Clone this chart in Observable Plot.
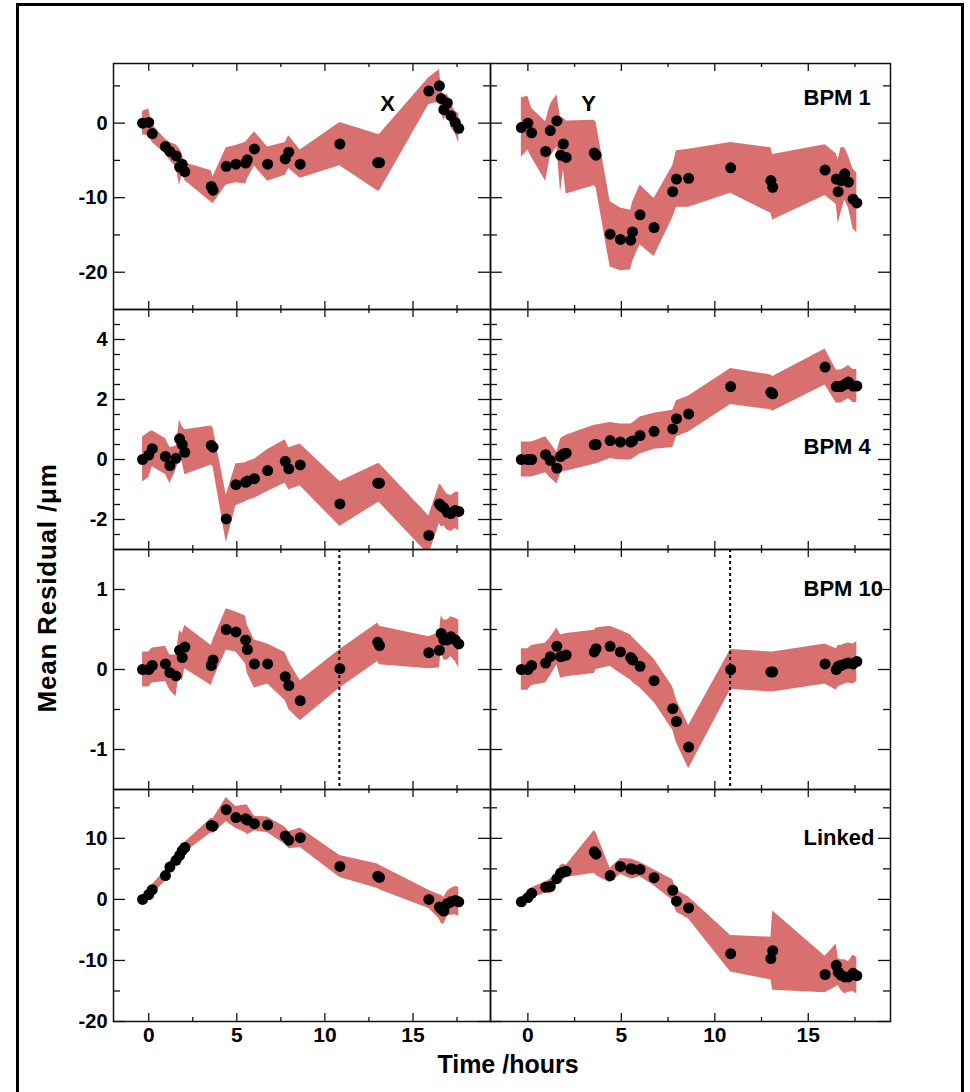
<!DOCTYPE html>
<html><head><meta charset="utf-8">
<script src="https://cdn.jsdelivr.net/npm/d3@7"></script>
<script src="https://cdn.jsdelivr.net/npm/@observablehq/plot@0.6"></script>
<style>
html,body{margin:0;padding:0;background:#fff;overflow:hidden;}
#page{position:relative;width:970px;height:1092px;overflow:hidden;font-family:"Liberation Sans",Arial,sans-serif;}
#border{position:absolute;left:16px;top:3px;width:942px;height:1110px;border:3px solid #000;}
.panel{position:absolute;}
.title{position:absolute;font-weight:bold;color:#000;white-space:nowrap;}
</style></head><body>
<div id="page"><div id="border"></div></div>
<script>
// Measurement times (hours), shared by all panels
const times = [-0.35, 0.0, 0.2, 0.95, 1.2, 1.55, 1.75, 1.9, 2.05, 3.55, 3.65, 4.4, 4.95, 5.5, 5.6, 6.0, 6.75, 7.75, 7.95, 8.6, 10.85, 13.0, 13.1, 15.9, 16.5, 16.6, 16.75, 16.95, 17.15, 17.4, 17.6];

// BPM 1
const bpm1X = [0.0, 0.1, -1.4, -3.15, -3.8, -4.4, -5.9, -5.5, -6.5, -8.5, -9.0, -5.8, -5.5, -5.35, -4.9, -3.46, -5.5, -4.8, -3.9, -5.5, -2.8, -5.3, -5.3, 4.3, 5.0, 3.3, 1.8, 2.7, 1.0, 0.1, -0.7];
const bpm1XErr = [1.6, 1.8, 1.2, 1.0, 1.2, 1.5, 2.5, 1.3, 1.2, 2.1, 1.8, 2.5, 2.5, 2.8, 2.6, 2.3, 2.3, 2.2, 2.2, 1.9, 2.9, 3.8, 3.8, 1.8, 2.2, 1.6, 1.5, 1.2, 1.6, 1.5, 2.0];
const bpm1Y = [-0.6, 0.0, -1.3, -3.8, -1.0, 0.3, -4.3, -2.8, -4.6, -4.0, -4.3, -14.9, -15.6, -15.7, -14.6, -12.3, -14.0, -9.2, -7.5, -7.4, -6.0, -7.7, -8.6, -6.3, -7.5, -9.2, -7.7, -6.8, -7.9, -10.2, -10.7];
const bpm1YErr = [4.0, 3.6, 3.3, 4.0, 3.5, 3.5, 5.0, 3.5, 4.9, 4.4, 4.4, 4.4, 4.2, 4.0, 4.0, 4.0, 3.9, 3.5, 3.8, 3.9, 3.4, 4.4, 4.4, 3.4, 3.4, 4.3, 4.4, 3.5, 3.5, 4.0, 4.0];
// BPM 4
const bpm4X = [0.0, 0.15, 0.36, 0.1, -0.2, 0.04, 0.69, 0.5, 0.24, 0.47, 0.41, -1.98, -0.84, -0.76, -0.72, -0.64, -0.37, -0.06, -0.31, -0.18, -1.48, -0.79, -0.79, -2.53, -1.48, -1.55, -1.61, -1.76, -1.8, -1.7, -1.73];
const bpm4XErr = [0.75, 0.75, 0.6, 0.6, 0.6, 0.4, 0.63, 0.6, 0.75, 0.65, 0.65, 0.8, 0.7, 0.65, 0.65, 0.65, 0.7, 0.72, 0.7, 0.7, 0.75, 0.65, 0.65, 0.65, 0.65, 0.7, 0.6, 0.6, 0.6, 0.6, 0.65];
const bpm4Y = [0.0, 0.0, 0.0, 0.16, -0.03, -0.29, 0.1, 0.18, 0.21, 0.49, 0.5, 0.63, 0.58, 0.58, 0.62, 0.8, 0.94, 1.02, 1.36, 1.52, 2.43, 2.24, 2.19, 3.08, 2.43, 2.43, 2.43, 2.5, 2.58, 2.45, 2.45];
const bpm4YErr = [0.58, 0.58, 0.58, 0.6, 0.58, 0.53, 0.58, 0.58, 0.6, 0.65, 0.65, 0.6, 0.6, 0.6, 0.6, 0.62, 0.6, 0.62, 0.6, 0.6, 0.6, 0.58, 0.58, 0.6, 0.55, 0.55, 0.55, 0.55, 0.55, 0.55, 0.55];
// BPM 10
const bpm10X = [0, 0, 0.05, 0.07, -0.04, -0.08, 0.24, 0.15, 0.28, 0.05, 0.12, 0.5, 0.47, 0.37, 0.25, 0.07, 0.07, -0.09, -0.2, -0.39, 0.01, 0.34, 0.3, 0.21, 0.24, 0.45, 0.37, 0.37, 0.41, 0.37, 0.32];
const bpm10XErr = [0.22, 0.22, 0.22, 0.22, 0.22, 0.26, 0.25, 0.3, 0.27, 0.25, 0.25, 0.26, 0.25, 0.3, 0.3, 0.3, 0.25, 0.3, 0.3, 0.25, 0.24, 0.24, 0.24, 0.2, 0.22, 0.22, 0.25, 0.25, 0.25, 0.27, 0.3];
const bpm10Y = [0, 0, 0.05, 0.08, 0.16, 0.29, 0.16, 0.17, 0.18, 0.22, 0.26, 0.29, 0.22, 0.15, 0.12, 0.04, -0.14, -0.49, -0.65, -0.97, 0, -0.03, -0.03, 0.07, 0, 0.04, 0.05, 0.07, 0.08, 0.07, 0.1];
const bpm10YErr = [0.26, 0.26, 0.25, 0.25, 0.24, 0.23, 0.27, 0.27, 0.27, 0.27, 0.26, 0.25, 0.27, 0.28, 0.28, 0.27, 0.27, 0.27, 0.27, 0.27, 0.25, 0.25, 0.25, 0.25, 0.26, 0.26, 0.25, 0.25, 0.25, 0.25, 0.25];
// Linked
const linkedX = [0, 0.8, 1.6, 3.9, 5.3, 6.4, 7.2, 8.0, 8.5, 12.1, 12.0, 14.7, 13.4, 13.2, 13.0, 12.4, 12.2, 10.4, 9.7, 10.1, 5.4, 3.8, 3.6, 0, -1.25, -1.6, -1.9, -0.7, -0.4, -0.2, -0.4];
const linkedXErr = [0.6, 0.8, 0.8, 0.9, 0.9, 0.9, 0.9, 0.9, 0.8, 1.2, 1.2, 2.0, 1.8, 2.3, 2.4, 1.2, 1.3, 1.4, 1.4, 1.6, 1.8, 2.0, 2.0, 1.5, 2.0, 2.3, 2.2, 2.0, 2.2, 2.3, 2.4];
const linkedY = [-0.4, 0.3, 1.0, 2.0, 2.1, 3.4, 4.3, 4.5, 4.6, 7.8, 7.4, 3.9, 5.4, 5.0, 4.95, 4.9, 3.55, 1.5, -0.3, -1.4, -8.9, -9.7, -8.4, -12.3, -10.8, -11.9, -12.4, -12.7, -12.7, -12.1, -12.5];
const linkedYErr = [0.8, 0.8, 0.9, 0.9, 1.2, 1.0, 1.3, 1.3, 1.0, 3.5, 3.5, 1.2, 1.3, 1.6, 1.6, 1.2, 1.3, 1.7, 1.8, 1.8, 3.0, 3.5, 6.5, 3.0, 3.5, 2.2, 2.5, 2.8, 2.5, 3.0, 3.0];

// Vertical marker time in BPM 10 panels
const markerTime = [10.82];

// Ticks
const xDomain = [-2, 19.4];
const xMajor = [0, 5, 10, 15];
const xMinor = [2.5, 7.5, 12.5, 17.5];
const yDomains = [[-25, 8], [-3, 5], [-1.5, 1.5], [-20, 18]];
const yMajor = [[-20, -10, 0], [-2, 0, 2, 4], [-1, 0, 1], [-20, -10, 0, 10]];
const yMinor = [[-15, -5, 5], [-2.5, -1.5, -1, -0.5, 0.5, 1, 1.5, 2.5, 3, 3.5, 4.5], [-0.5, 0.5], [-15, -5, 5, 15]];
const rowLabels = ["BPM 1", "BPM 4", "BPM 10", "Linked"];
const colLabels = ["X", "Y"];

const series = [
  [[bpm1X, bpm1XErr], [bpm1Y, bpm1YErr]],
  [[bpm4X, bpm4XErr], [bpm4Y, bpm4YErr]],
  [[bpm10X, bpm10XErr], [bpm10Y, bpm10YErr]],
  [[linkedX, linkedXErr], [linkedY, linkedYErr]]
];

// Layout (pixels)
const colEdges = [113, 490, 890];
const rowEdges = [63, 309, 549, 789, 1021];
const pad = 3;
const band = "#d8706f";
const ink = "#111";
const font = "Liberation Sans, Arial, sans-serif";

const page = document.getElementById("page");

for (let r = 0; r < 4; r++) {
  for (let c = 0; c < 2; c++) {
    const [vals, errs] = series[r][c];
    const rows = times.map((t, i) => ({t, y: vals[i], lo: vals[i] - errs[i], hi: vals[i] + errs[i]}));
    const innerW = colEdges[c + 1] - colEdges[c];
    const innerH = rowEdges[r + 1] - rowEdges[r];
    const mL = c === 0 ? 75 : pad;
    const mB = r === 3 ? 40 : pad;
    const marks = [
      Plot.areaY(rows, {x: "t", y1: "lo", y2: "hi", fill: band, curve: "linear", clip: true}),
    ];
    if (r === 2) marks.push(Plot.ruleX(markerTime, {stroke: "#000", strokeWidth: 2, strokeDasharray: "3,3"}));
    marks.push(Plot.dot(rows, {x: "t", y: "y", r: 5.5, fill: "#000", stroke: "none"}));
    // labels inside panels
    if (r === 0) {
      marks.push(Plot.text([colLabels[c]], {text: d => d, frameAnchor: "top-left", textAnchor: "middle", lineAnchor: "middle",
        dx: c === 0 ? 274 : 98, dy: 40, fontSize: 22, fontWeight: "bold", fill: "#000"}));
    }
    if (c === 1) {
      const dys = [34, 137, 39, 48];
      marks.push(Plot.text([rowLabels[r]], {text: d => d, frameAnchor: "top-left", textAnchor: "start", lineAnchor: "middle",
        dx: 313, dy: dys[r], fontSize: 22, fontWeight: "bold", fill: "#000"}));
    }
    // inward ticks
    const tk = {stroke: ink, strokeWidth: 1.3};
    marks.push(
      Plot.tickY(yMajor[r], {...tk, insetRight: innerW - 12}),
      Plot.tickY(yMajor[r], {...tk, insetLeft: innerW - 12}),
      Plot.tickY(yMinor[r], {...tk, insetRight: innerW - 7}),
      Plot.tickY(yMinor[r], {...tk, insetLeft: innerW - 7}),
      Plot.tickX(xMajor, {...tk, insetBottom: innerH - 8}),
      Plot.tickX(xMajor, {...tk, insetTop: innerH - 8}),
      Plot.tickX(xMinor, {...tk, insetBottom: innerH - 4}),
      Plot.tickX(xMinor, {...tk, insetTop: innerH - 4}),
      Plot.frame({stroke: ink, strokeWidth: 1.5})
    );
    if (c === 0) {
      marks.push(Plot.text(yMajor[r], {y: d => d, text: d => String(d), frameAnchor: "left", textAnchor: "end", lineAnchor: "middle",
        dx: -6, fontSize: 20, fontWeight: "bold", fill: "#000"}));
    }
    if (r === 3) {
      marks.push(Plot.text(xMajor, {x: d => d, text: d => String(d), frameAnchor: "bottom", lineAnchor: "middle", dy: 14,
        fontSize: 21, fontWeight: "bold", fill: "#000"}));
    }
    const svg = Plot.plot({
      width: mL + innerW + pad,
      height: pad + innerH + mB,
      marginLeft: mL, marginRight: pad, marginTop: pad, marginBottom: mB,
      x: {domain: xDomain, axis: null},
      y: {domain: yDomains[r], axis: null},
      style: {background: "transparent", fontFamily: font, overflow: "visible"},
      marks
    });
    svg.classList.add("panel");
    svg.style.left = (colEdges[c] - mL) + "px";
    svg.style.top = (rowEdges[r] - pad) + "px";
    svg.style.position = "absolute";
    svg.style.maxWidth = "none";
    page.appendChild(svg);
  }
}

// Axis titles
const yt = document.createElement("div");
yt.className = "title";
yt.textContent = "Mean Residual /\u03bcm";
yt.style.fontSize = "26px";
yt.style.letterSpacing = "0.8px";
yt.style.left = "47px";
yt.style.top = "588px";
yt.style.transform = "translate(-50%,-50%) rotate(-90deg)";
page.appendChild(yt);

const xt = document.createElement("div");
xt.className = "title";
xt.textContent = "Time /hours";
xt.style.fontSize = "25px";
xt.style.left = "508px";
xt.style.top = "1064px";
xt.style.transform = "translate(-50%,-50%)";
page.appendChild(xt);
</script>
</body></html>
